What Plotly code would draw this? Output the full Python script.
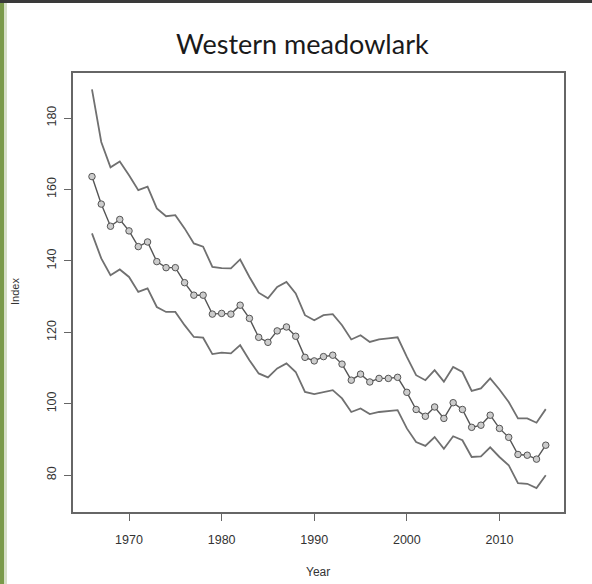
import plotly.graph_objects as go

years = list(range(1966, 2016))
index_vals = [163.6, 155.9, 149.7, 151.6, 148.4, 144.0, 145.3, 139.8, 138.1, 138.1,
              133.9, 130.4, 130.4, 125.1, 125.3, 125.1, 127.6, 123.9, 118.6, 117.2,
              120.4, 121.5, 118.9, 113.0, 112.0, 113.2, 113.6, 111.1, 106.6, 108.3,
              106.1, 107.1, 107.1, 107.4, 103.2, 98.4, 96.5, 99.1, 95.9, 100.3,
              98.4, 93.4, 94.0, 96.8, 93.1, 90.6, 85.8, 85.6, 84.5, 88.4]
upper_vals = [188.0, 173.3, 166.2, 167.8, 164.0, 159.8, 160.8, 154.7, 152.5, 152.8,
              149.1, 144.9, 144.0, 138.3, 138.0, 137.9, 140.4, 135.5, 131.1, 129.5,
              132.7, 134.1, 130.9, 124.8, 123.4, 124.8, 125.1, 122.0, 118.0, 119.2,
              117.3, 118.0, 118.3, 118.6, 113.1, 108.0, 106.6, 109.4, 106.2, 110.3,
              108.9, 103.6, 104.3, 107.1, 104.0, 100.5, 95.9, 95.9, 94.7, 98.5]
lower_vals = [147.7, 140.7, 136.0, 137.6, 135.5, 131.3, 132.3, 127.1, 125.7, 125.7,
              122.0, 118.7, 118.5, 113.9, 114.3, 114.1, 116.4, 112.2, 108.5, 107.4,
              109.9, 111.3, 108.9, 103.3, 102.7, 103.3, 103.8, 101.5, 97.7, 98.7,
              97.1, 97.7, 98.0, 98.2, 93.1, 89.3, 88.2, 90.7, 87.4, 90.9,
              89.8, 85.1, 85.3, 87.8, 85.1, 82.8, 77.8, 77.6, 76.4, 80.0]
x_ticks = [1970, 1980, 1990, 2000, 2010]
y_ticks = [80, 100, 120, 140, 160, 180]

W, H = 592, 584
ML, MR, MT, MB = 73, 28, 73, 72
pw, ph = W - ML - MR, H - MT - MB

band_line = dict(color="#707070", width=1.8)

fig = go.Figure()
fig.add_trace(go.Scatter(x=years, y=upper_vals, mode="lines", line=band_line, hoverinfo="skip"))
fig.add_trace(go.Scatter(x=years, y=lower_vals, mode="lines", line=band_line, hoverinfo="skip"))
fig.add_trace(go.Scatter(
    x=years, y=index_vals, mode="lines+markers",
    line=dict(color="#555555", width=1.4),
    marker=dict(symbol="circle", size=6.5, color="#cccccc", line=dict(color="#555555", width=1)),
))

tickfont = dict(family="Liberation Sans, Arial, sans-serif", size=12.5, color="#333333")

fig.update_layout(
    width=W, height=H,
    margin=dict(l=ML, r=MR, t=MT, b=MB),
    paper_bgcolor="white", plot_bgcolor="white",
    showlegend=False,
    xaxis=dict(range=[1963.95, 2016.97], tickvals=x_ticks, ticks="outside", ticklen=7,
               tickwidth=1.2, tickcolor="#666666", showline=True, linecolor="#666666",
               linewidth=1.5, mirror=True, showgrid=False, zeroline=False,
               tickfont=tickfont, ticklabelstandoff=8),
    yaxis=dict(range=[69.7, 192.6], tickvals=y_ticks, ticks="outside", ticklen=7,
               tickwidth=1.2, tickcolor="#666666", showline=True, linecolor="#666666",
               linewidth=1.5, mirror=True, showgrid=False, zeroline=False,
               tickfont=tickfont, tickangle=-90, ticklabelstandoff=3),
    annotations=[
        dict(text="Western meadowlark", x=(302 - ML) / pw, y=(H - MB - 43) / ph,
             xref="paper", yref="paper", showarrow=False, xanchor="center", yanchor="middle",
             font=dict(family="Lato, Open Sans, sans-serif", size=27, color="#1a1a1a")),
        dict(text="Year", x=(318 - ML) / pw, y=(H - MB - 572) / ph,
             xref="paper", yref="paper", showarrow=False, xanchor="center", yanchor="middle",
             font=dict(family="Liberation Sans, Arial, sans-serif", size=12, color="#333333")),
        dict(text="Index", x=(15 - ML) / pw, y=(H - MB - 292) / ph, textangle=-90,
             xref="paper", yref="paper", showarrow=False, xanchor="center", yanchor="middle",
             font=dict(family="Liberation Sans, Arial, sans-serif", size=11, color="#333333")),
    ],
    shapes=[
        dict(type="rect", xref="paper", yref="paper",
             x0=(0 - ML) / pw, x1=(W - ML) / pw, y0=(H - MB - 3) / ph, y1=(H - MB) / ph,
             fillcolor="#3a3a3a", line=dict(width=0), layer="above"),
        dict(type="rect", xref="paper", yref="paper",
             x0=(0 - ML) / pw, x1=(4 - ML) / pw, y0=(0 - MB) / ph, y1=(H - MB - 3) / ph,
             fillcolor="#7a9a4a", line=dict(width=0), layer="above"),
        dict(type="rect", xref="paper", yref="paper",
             x0=(4 - ML) / pw, x1=(7 - ML) / pw, y0=(0 - MB) / ph, y1=(H - MB - 3) / ph,
             fillcolor="#d6dfc8", line=dict(width=0), layer="above"),
    ],
)

fig.write_html("out.html")
